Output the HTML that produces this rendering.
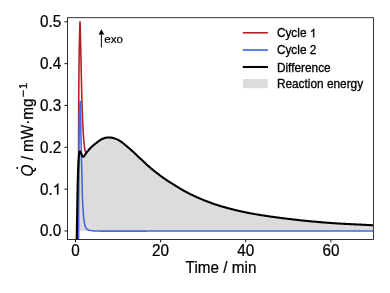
<!DOCTYPE html>
<html><head><meta charset="utf-8"><title>DSC</title>
<style>html,body{margin:0;padding:0;background:#fff;}body{width:390px;height:293px;overflow:hidden;font-family:"Liberation Sans",sans-serif;}</style>
</head><body>
<svg width="390" height="293" viewBox="0 0 390 293" style="display:block;will-change:transform;font-family:'Liberation Sans',sans-serif">
<rect width="390" height="293" fill="#fff"/>
<defs><clipPath id="c"><rect x="67.5" y="17.7" width="305.90" height="221.75"/></clipPath></defs>
<g clip-path="url(#c)" fill="none" stroke-linejoin="round" stroke-linecap="butt">
<path d="M76.88,230.81 L76.89,230.10 L76.90,229.39 L76.91,228.68 L76.93,227.97 L76.94,227.26 L76.95,226.55 L76.96,225.84 L76.97,225.12 L76.98,224.41 L76.99,223.70 L77.00,222.99 L77.01,222.28 L77.02,221.57 L77.03,220.86 L77.04,220.15 L77.05,219.44 L77.06,218.73 L77.07,218.01 L77.08,217.30 L77.09,216.59 L77.11,215.88 L77.12,215.17 L77.13,214.46 L77.14,213.75 L77.15,213.04 L77.16,212.33 L77.17,211.62 L77.18,210.90 L77.20,210.19 L77.21,209.48 L77.22,208.77 L77.23,208.06 L77.25,207.35 L77.26,206.64 L77.27,205.93 L77.28,205.22 L77.29,204.51 L77.30,203.80 L77.32,203.08 L77.33,202.37 L77.34,201.66 L77.35,200.95 L77.36,200.24 L77.37,199.53 L77.39,198.82 L77.40,198.11 L77.41,197.40 L77.42,196.69 L77.43,195.98 L77.45,195.26 L77.46,194.55 L77.47,193.84 L77.48,193.13 L77.50,192.42 L77.51,191.71 L77.52,191.00 L77.54,190.29 L77.55,189.58 L77.57,188.87 L77.58,188.16 L77.60,187.44 L77.61,186.73 L77.63,186.02 L77.64,185.31 L77.66,184.60 L77.68,183.89 L77.69,183.18 L77.71,182.47 L77.73,181.76 L77.75,181.05 L77.77,180.34 L77.79,179.63 L77.81,178.91 L77.83,178.20 L77.85,177.49 L77.87,176.78 L77.89,176.07 L77.91,175.36 L77.94,174.65 L77.96,173.94 L77.98,173.23 L78.01,172.52 L78.03,171.81 L78.06,171.10 L78.09,170.39 L78.11,169.68 L78.14,168.97 L78.17,168.26 L78.20,167.54 L78.23,166.83 L78.26,166.12 L78.30,165.41 L78.33,164.70 L78.37,163.99 L78.41,163.28 L78.44,162.57 L78.49,161.86 L78.53,161.15 L78.57,160.44 L78.62,159.73 L78.66,159.02 L78.71,158.31 L78.76,157.60 L78.82,156.89 L78.88,156.18 L78.95,155.47 L79.03,154.77 L79.12,154.06 L79.23,153.21 L79.38,152.31 L79.56,151.59 L79.80,151.30 L80.25,151.69 L80.74,152.36 L81.05,152.98 L81.31,153.65 L81.58,154.32 L81.89,154.97 L82.23,155.74 L82.62,156.45 L83.05,156.80 L83.63,156.57 L84.24,156.06 L84.68,155.54 L85.04,154.93 L85.39,154.28 L85.76,153.66 L86.17,153.08 L86.60,152.52 L87.04,151.96 L87.49,151.41 L87.95,150.86 L88.41,150.32 L88.87,149.77 L89.33,149.23 L89.80,148.69 L90.27,148.16 L90.76,147.64 L91.25,147.13 L91.76,146.63 L92.27,146.15 L92.81,145.69 L93.35,145.23 L93.91,144.79 L94.48,144.36 L95.05,143.93 L95.62,143.50 L96.18,143.06 L96.74,142.62 L97.30,142.17 L97.86,141.73 L98.42,141.29 L99.00,140.87 L99.58,140.48 L100.18,140.11 L100.79,139.74 L101.42,139.38 L102.05,139.03 L102.70,138.72 L103.35,138.44 L104.01,138.23 L104.69,138.04 L105.38,137.86 L106.08,137.70 L106.79,137.57 L107.50,137.48 L108.21,137.45 L108.92,137.47 L109.63,137.51 L110.34,137.57 L111.05,137.65 L111.76,137.74 L112.45,137.84 L113.15,137.98 L113.84,138.17 L114.52,138.39 L115.20,138.63 L115.87,138.88 L116.52,139.13 L117.17,139.41 L117.81,139.73 L118.44,140.06 L119.06,140.42 L119.68,140.79 L120.28,141.17 L120.87,141.55 L121.45,141.96 L122.02,142.38 L122.58,142.82 L123.14,143.27 L123.69,143.72 L124.24,144.18 L124.79,144.62 L125.35,145.07 L125.90,145.52 L126.44,145.98 L126.99,146.43 L127.53,146.89 L128.08,147.35 L128.62,147.81 L129.16,148.27 L129.69,148.74 L130.23,149.21 L130.77,149.68 L131.30,150.15 L131.83,150.62 L132.36,151.09 L132.89,151.57 L133.42,152.04 L133.94,152.52 L134.46,153.00 L134.98,153.49 L135.50,153.98 L136.02,154.46 L136.53,154.95 L137.05,155.45 L137.56,155.94 L138.08,156.43 L138.59,156.92 L139.11,157.41 L139.62,157.90 L140.14,158.39 L140.66,158.88 L141.17,159.36 L141.69,159.85 L142.21,160.34 L142.73,160.83 L143.25,161.31 L143.76,161.80 L144.28,162.29 L144.80,162.78 L145.32,163.27 L145.84,163.75 L146.36,164.23 L146.88,164.72 L147.41,165.19 L147.94,165.67 L148.47,166.14 L149.00,166.61 L149.54,167.07 L150.08,167.54 L150.62,168.00 L151.16,168.45 L151.71,168.91 L152.26,169.36 L152.81,169.82 L153.36,170.26 L153.91,170.71 L154.47,171.16 L155.03,171.60 L155.59,172.04 L156.15,172.48 L156.71,172.91 L157.27,173.35 L157.83,173.78 L158.40,174.21 L158.97,174.64 L159.53,175.07 L160.11,175.49 L160.68,175.91 L161.25,176.33 L161.83,176.75 L162.40,177.17 L162.98,177.58 L163.56,177.99 L164.15,178.40 L164.73,178.81 L165.31,179.21 L165.90,179.61 L166.49,180.01 L167.08,180.40 L167.67,180.79 L168.27,181.18 L168.87,181.57 L169.47,181.95 L170.06,182.34 L170.67,182.72 L171.27,183.10 L171.87,183.47 L172.47,183.85 L173.08,184.23 L173.68,184.60 L174.29,184.97 L174.89,185.35 L175.50,185.73 L176.10,186.10 L176.70,186.48 L177.31,186.85 L177.92,187.23 L178.52,187.60 L179.13,187.97 L179.74,188.34 L180.35,188.71 L180.96,189.08 L181.57,189.44 L182.18,189.80 L182.80,190.16 L183.42,190.51 L184.03,190.86 L184.65,191.20 L185.28,191.54 L185.90,191.88 L186.53,192.21 L187.16,192.54 L187.79,192.86 L188.42,193.18 L189.06,193.50 L189.69,193.82 L190.33,194.13 L190.97,194.44 L191.61,194.75 L192.25,195.06 L192.90,195.37 L193.54,195.67 L194.19,195.97 L194.83,196.27 L195.48,196.56 L196.13,196.86 L196.78,197.15 L197.43,197.43 L198.09,197.72 L198.74,198.00 L199.39,198.28 L200.05,198.56 L200.70,198.84 L201.36,199.11 L202.02,199.38 L202.67,199.65 L203.33,199.92 L203.99,200.19 L204.65,200.45 L205.31,200.71 L205.97,200.97 L206.63,201.23 L207.30,201.49 L207.96,201.74 L208.63,202.00 L209.29,202.25 L209.96,202.50 L210.63,202.74 L211.30,202.99 L211.97,203.23 L212.64,203.47 L213.31,203.71 L213.98,203.94 L214.65,204.17 L215.33,204.40 L216.00,204.63 L216.68,204.85 L217.35,205.07 L218.03,205.29 L218.70,205.50 L219.38,205.71 L220.06,205.92 L220.74,206.13 L221.42,206.33 L222.10,206.53 L222.78,206.73 L223.47,206.93 L224.15,207.12 L224.83,207.32 L225.52,207.51 L226.21,207.70 L226.89,207.88 L227.58,208.07 L228.27,208.25 L228.96,208.43 L229.65,208.61 L230.34,208.79 L231.03,208.97 L231.72,209.14 L232.41,209.31 L233.10,209.48 L233.79,209.65 L234.48,209.82 L235.17,209.99 L235.86,210.16 L236.55,210.32 L237.24,210.48 L237.93,210.65 L238.63,210.81 L239.32,210.97 L240.01,211.13 L240.71,211.29 L241.40,211.44 L242.09,211.60 L242.79,211.75 L243.48,211.90 L244.18,212.05 L244.88,212.20 L245.57,212.34 L246.27,212.49 L246.97,212.63 L247.66,212.77 L248.36,212.90 L249.06,213.04 L249.76,213.17 L250.46,213.30 L251.15,213.42 L251.85,213.55 L252.55,213.68 L253.25,213.80 L253.95,213.93 L254.65,214.05 L255.35,214.17 L256.05,214.29 L256.75,214.41 L257.46,214.53 L258.16,214.65 L258.86,214.76 L259.56,214.88 L260.26,214.99 L260.97,215.10 L261.67,215.22 L262.37,215.33 L263.07,215.44 L263.78,215.55 L264.48,215.66 L265.18,215.76 L265.89,215.87 L266.59,215.98 L267.29,216.08 L268.00,216.19 L268.70,216.29 L269.40,216.39 L270.11,216.49 L270.81,216.59 L271.52,216.69 L272.22,216.79 L272.93,216.89 L273.63,216.99 L274.33,217.08 L275.04,217.18 L275.74,217.27 L276.45,217.37 L277.15,217.46 L277.86,217.56 L278.56,217.65 L279.27,217.74 L279.97,217.83 L280.67,217.93 L281.38,218.02 L282.09,218.11 L282.79,218.20 L283.50,218.29 L284.20,218.38 L284.91,218.47 L285.61,218.55 L286.32,218.64 L287.02,218.73 L287.73,218.82 L288.44,218.90 L289.14,218.99 L289.85,219.07 L290.55,219.16 L291.26,219.24 L291.97,219.33 L292.67,219.41 L293.38,219.49 L294.09,219.57 L294.79,219.66 L295.50,219.74 L296.21,219.82 L296.91,219.90 L297.62,219.97 L298.33,220.05 L299.03,220.13 L299.74,220.21 L300.45,220.28 L301.16,220.36 L301.86,220.44 L302.57,220.51 L303.28,220.58 L303.98,220.66 L304.69,220.73 L305.40,220.80 L306.11,220.87 L306.81,220.94 L307.52,221.01 L308.23,221.08 L308.94,221.15 L309.64,221.22 L310.35,221.28 L311.06,221.35 L311.77,221.42 L312.48,221.48 L313.18,221.54 L313.89,221.61 L314.60,221.67 L315.31,221.73 L316.02,221.80 L316.72,221.86 L317.43,221.92 L318.14,221.98 L318.85,222.04 L319.56,222.10 L320.27,222.16 L320.97,222.22 L321.68,222.28 L322.39,222.34 L323.10,222.40 L323.81,222.46 L324.52,222.51 L325.23,222.57 L325.94,222.62 L326.65,222.68 L327.35,222.73 L328.06,222.79 L328.77,222.84 L329.48,222.89 L330.19,222.95 L330.90,223.00 L331.61,223.05 L332.32,223.10 L333.03,223.15 L333.74,223.20 L334.45,223.25 L335.16,223.29 L335.87,223.34 L336.58,223.39 L337.29,223.43 L338.00,223.48 L338.71,223.52 L339.41,223.56 L340.12,223.61 L340.83,223.65 L341.54,223.69 L342.25,223.73 L342.96,223.77 L343.67,223.81 L344.38,223.85 L345.09,223.88 L345.80,223.92 L346.51,223.95 L347.22,223.99 L347.93,224.02 L348.64,224.06 L349.35,224.09 L350.06,224.13 L350.77,224.16 L351.49,224.19 L352.20,224.23 L352.91,224.26 L353.62,224.29 L354.33,224.33 L355.04,224.36 L355.75,224.39 L356.46,224.43 L357.17,224.46 L357.88,224.49 L358.59,224.53 L359.30,224.56 L360.01,224.60 L360.72,224.64 L361.43,224.67 L362.14,224.71 L362.85,224.75 L363.56,224.78 L364.27,224.82 L364.98,224.86 L365.69,224.89 L366.40,224.93 L367.11,224.97 L367.82,225.00 L368.53,225.04 L369.24,225.08 L369.95,225.11 L370.66,225.15 L371.37,225.19 L372.08,225.23 L372.79,225.26 L373.50,225.30 L373.40,230.95 L76.88,230.95 Z" fill="#dcdcdc" stroke="none"/>
<path d="M77.80,250.00 L77.81,248.79 L77.82,247.58 L77.84,246.37 L77.85,245.16 L77.86,243.95 L77.87,242.73 L77.88,241.52 L77.89,240.31 L77.90,239.10 L77.91,237.89 L77.92,236.68 L77.93,235.47 L77.94,234.26 L77.95,233.05 L77.96,231.84 L77.97,230.63 L77.98,229.41 L77.99,228.20 L78.00,226.99 L78.01,225.78 L78.02,224.57 L78.02,223.36 L78.03,222.15 L78.04,220.94 L78.05,219.73 L78.06,218.52 L78.07,217.30 L78.08,216.09 L78.09,214.88 L78.10,213.67 L78.10,212.46 L78.11,211.25 L78.12,210.04 L78.13,208.83 L78.14,207.62 L78.15,206.41 L78.16,205.20 L78.17,203.98 L78.18,202.77 L78.19,201.56 L78.20,200.35 L78.21,199.14 L78.22,197.93 L78.23,196.72 L78.24,195.51 L78.25,194.30 L78.26,193.09 L78.27,191.88 L78.29,190.66 L78.30,189.45 L78.31,188.24 L78.32,187.03 L78.34,185.82 L78.35,184.61 L78.36,183.40 L78.37,182.19 L78.39,180.98 L78.40,179.77 L78.41,178.56 L78.42,177.34 L78.43,176.13 L78.45,174.92 L78.46,173.71 L78.47,172.50 L78.48,171.29 L78.49,170.08 L78.50,168.87 L78.51,167.66 L78.51,166.45 L78.52,165.24 L78.53,164.02 L78.54,162.81 L78.54,161.60 L78.55,160.39 L78.55,159.18 L78.56,157.97 L78.56,156.76 L78.57,155.55 L78.57,154.34 L78.57,153.13 L78.58,151.91 L78.58,150.70 L78.58,149.49 L78.59,148.28 L78.59,147.07 L78.59,145.86 L78.59,144.65 L78.60,143.44 L78.60,142.23 L78.60,141.02 L78.61,139.80 L78.61,138.59 L78.61,137.38 L78.61,136.17 L78.62,134.96 L78.62,133.75 L78.62,132.54 L78.63,131.33 L78.63,130.12 L78.63,128.91 L78.64,127.70 L78.64,126.48 L78.64,125.27 L78.65,124.06 L78.65,122.85 L78.65,121.64 L78.65,120.43 L78.66,119.22 L78.66,118.01 L78.66,116.80 L78.67,115.59 L78.67,114.37 L78.67,113.16 L78.68,111.95 L78.68,110.74 L78.69,109.53 L78.69,108.32 L78.69,107.11 L78.70,105.90 L78.70,104.69 L78.71,103.48 L78.71,102.26 L78.72,101.05 L78.72,99.84 L78.73,98.63 L78.73,97.42 L78.74,96.21 L78.74,95.00 L78.75,93.79 L78.76,92.58 L78.77,91.37 L78.77,90.16 L78.78,88.94 L78.79,87.73 L78.80,86.52 L78.81,85.31 L78.82,84.10 L78.83,82.89 L78.84,81.68 L78.85,80.47 L78.86,79.26 L78.87,78.05 L78.88,76.84 L78.89,75.62 L78.91,74.41 L78.92,73.20 L78.93,71.99 L78.94,70.78 L78.95,69.57 L78.97,68.36 L78.98,67.15 L79.00,65.94 L79.01,64.73 L79.03,63.52 L79.05,62.30 L79.07,61.09 L79.08,59.88 L79.10,58.67 L79.12,57.46 L79.14,56.25 L79.16,55.04 L79.19,53.83 L79.21,52.62 L79.23,51.41 L79.25,50.20 L79.27,48.99 L79.30,47.77 L79.32,46.56 L79.34,45.35 L79.37,44.14 L79.39,42.93 L79.41,41.72 L79.44,40.51 L79.46,39.30 L79.49,38.09 L79.52,36.88 L79.54,35.67 L79.57,34.46 L79.60,33.25 L79.64,32.04 L79.67,30.83 L79.70,29.61 L79.74,28.40 L79.78,27.10 L79.82,25.55 L79.87,23.97 L79.92,22.64 L79.97,21.83 L80.02,21.79 L80.07,22.55 L80.12,23.85 L80.17,25.41 L80.22,26.98 L80.26,28.31 L80.29,29.52 L80.33,30.73 L80.36,31.94 L80.39,33.15 L80.42,34.36 L80.45,35.57 L80.47,36.78 L80.50,37.99 L80.52,39.20 L80.55,40.41 L80.58,41.62 L80.60,42.83 L80.63,44.04 L80.66,45.26 L80.68,46.47 L80.71,47.68 L80.74,48.89 L80.76,50.10 L80.79,51.31 L80.82,52.52 L80.84,53.73 L80.87,54.94 L80.90,56.15 L80.92,57.36 L80.95,58.57 L80.97,59.78 L81.00,60.99 L81.03,62.20 L81.05,63.42 L81.08,64.63 L81.11,65.84 L81.13,67.05 L81.16,68.26 L81.19,69.47 L81.22,70.68 L81.24,71.89 L81.27,73.10 L81.30,74.31 L81.32,75.52 L81.35,76.73 L81.37,77.94 L81.40,79.15 L81.43,80.36 L81.45,81.58 L81.48,82.79 L81.50,84.00 L81.53,85.21 L81.56,86.42 L81.58,87.63 L81.61,88.84 L81.64,90.05 L81.67,91.26 L81.70,92.47 L81.73,93.68 L81.76,94.89 L81.79,96.10 L81.82,97.31 L81.86,98.52 L81.89,99.73 L81.93,100.95 L81.96,102.16 L82.00,103.37 L82.04,104.58 L82.08,105.79 L82.12,107.00 L82.16,108.21 L82.20,109.42 L82.25,110.63 L82.29,111.84 L82.34,113.05 L82.39,114.26 L82.43,115.47 L82.48,116.68 L82.53,117.89 L82.58,119.10 L82.63,120.31 L82.69,121.52 L82.74,122.73 L82.80,123.94 L82.85,125.15 L82.91,126.36 L82.97,127.57 L83.03,128.78 L83.10,129.99 L83.16,131.19 L83.23,132.40 L83.31,133.61 L83.38,134.82 L83.46,136.03 L83.55,137.24 L83.63,138.44 L83.73,139.65 L83.83,140.86 L83.94,142.07 L84.06,143.27 L84.18,144.48 L84.32,145.68 L84.46,146.89 L84.62,148.09 L84.82,149.29 L85.06,150.49 L85.42,151.92 L86.07,152.34 L87.18,151.73 L88.00,150.80" stroke="#b22222" stroke-width="1.6"/>
<path d="M78.50,250.00 L78.52,248.59 L78.53,247.17 L78.55,245.76 L78.56,244.35 L78.57,242.93 L78.59,241.52 L78.60,240.11 L78.60,238.69 L78.61,237.28 L78.61,235.87 L78.62,234.45 L78.62,233.04 L78.63,231.63 L78.63,230.21 L78.64,228.80 L78.64,227.39 L78.64,225.97 L78.65,224.56 L78.65,223.15 L78.65,221.73 L78.66,220.32 L78.66,218.91 L78.66,217.49 L78.66,216.08 L78.67,214.67 L78.67,213.25 L78.67,211.84 L78.67,210.43 L78.68,209.01 L78.68,207.60 L78.68,206.19 L78.69,204.77 L78.69,203.36 L78.69,201.95 L78.70,200.53 L78.70,199.12 L78.71,197.71 L78.71,196.29 L78.72,194.88 L78.72,193.46 L78.73,192.05 L78.73,190.64 L78.74,189.22 L78.74,187.81 L78.75,186.40 L78.76,184.98 L78.76,183.57 L78.77,182.16 L78.77,180.74 L78.78,179.33 L78.79,177.92 L78.79,176.50 L78.80,175.09 L78.81,173.68 L78.81,172.26 L78.82,170.85 L78.83,169.44 L78.83,168.02 L78.84,166.61 L78.85,165.20 L78.86,163.78 L78.86,162.37 L78.87,160.96 L78.88,159.54 L78.89,158.13 L78.89,156.72 L78.90,155.30 L78.91,153.89 L78.92,152.48 L78.93,151.06 L78.94,149.65 L78.95,148.24 L78.96,146.82 L78.97,145.41 L78.98,144.00 L78.99,142.58 L79.01,141.17 L79.03,139.76 L79.05,138.34 L79.07,136.93 L79.09,135.52 L79.12,134.10 L79.15,132.69 L79.17,131.28 L79.20,129.86 L79.23,128.45 L79.26,127.04 L79.29,125.63 L79.31,124.21 L79.34,122.80 L79.36,121.39 L79.39,119.97 L79.41,118.56 L79.43,117.15 L79.46,115.73 L79.49,114.32 L79.52,112.91 L79.56,111.49 L79.60,110.08 L79.65,108.67 L79.71,107.26 L79.79,105.84 L79.88,104.43 L80.01,102.74 L80.18,101.43 L80.35,102.19 L80.49,103.97 L80.53,105.40 L80.55,106.81 L80.56,108.22 L80.58,109.64 L80.59,111.05 L80.61,112.47 L80.63,113.88 L80.65,115.29 L80.67,116.71 L80.68,118.12 L80.71,119.53 L80.73,120.95 L80.75,122.36 L80.77,123.77 L80.79,125.19 L80.81,126.60 L80.83,128.01 L80.85,129.42 L80.88,130.84 L80.90,132.25 L80.93,133.66 L80.95,135.08 L80.98,136.49 L81.00,137.90 L81.03,139.32 L81.06,140.73 L81.09,142.14 L81.12,143.56 L81.15,144.97 L81.18,146.38 L81.21,147.80 L81.24,149.21 L81.27,150.62 L81.31,152.03 L81.34,153.45 L81.37,154.86 L81.41,156.27 L81.44,157.69 L81.48,159.10 L81.51,160.51 L81.55,161.93 L81.59,163.34 L81.63,164.75 L81.67,166.16 L81.71,167.58 L81.75,168.99 L81.79,170.40 L81.83,171.81 L81.87,173.23 L81.91,174.64 L81.95,176.05 L81.99,177.47 L82.02,178.88 L82.05,180.29 L82.08,181.71 L82.11,183.12 L82.14,184.53 L82.17,185.95 L82.19,187.36 L82.22,188.77 L82.25,190.19 L82.28,191.60 L82.31,193.01 L82.35,194.42 L82.38,195.84 L82.43,197.25 L82.47,198.66 L82.53,200.07 L82.59,201.49 L82.66,202.90 L82.73,204.31 L82.81,205.72 L82.90,207.13 L82.98,208.54 L83.07,209.95 L83.17,211.36 L83.27,212.78 L83.38,214.18 L83.50,215.59 L83.64,217.00 L83.79,218.40 L83.96,219.81 L84.15,221.22 L84.38,222.61 L84.64,224.00 L84.96,225.37 L85.41,226.72 L86.01,228.00 L86.89,229.09 L88.09,229.82 L89.46,230.23 L90.85,230.53 L92.24,230.74 L93.65,230.85 L95.06,230.93 L96.48,230.98 L97.89,231.02 L99.30,231.06 L100.72,231.09 L102.13,231.10 L103.54,231.10 L104.96,231.10 L106.37,231.10 L107.78,231.10 L109.20,231.10 L110.61,231.10 L112.02,231.10 L113.44,231.10 L114.85,231.10 L116.26,231.10 L117.68,231.10 L119.09,231.10 L120.50,231.10 L121.92,231.10 L123.33,231.10 L124.74,231.10 L126.16,231.10 L127.57,231.10 L128.98,231.10 L130.40,231.10 L131.81,231.09 L133.22,231.09 L134.64,231.09 L136.05,231.09 L137.46,231.09 L138.88,231.09 L140.29,231.08 L141.70,231.08 L143.12,231.08 L144.53,231.08 L145.94,231.08 L147.36,231.07 L148.77,231.07 L150.18,231.07 L151.60,231.07 L153.01,231.06 L154.42,231.06 L155.84,231.06 L157.25,231.06 L158.66,231.05 L160.08,231.05 L161.49,231.05 L162.90,231.04 L164.32,231.04 L165.73,231.04 L167.14,231.04 L168.56,231.03 L169.97,231.03 L171.38,231.03 L172.80,231.03 L174.21,231.02 L175.63,231.02 L177.04,231.02 L178.45,231.02 L179.87,231.02 L181.28,231.01 L182.69,231.01 L184.11,231.01 L185.52,231.01 L186.93,231.01 L188.35,231.01 L189.76,231.00 L191.17,231.00 L192.59,231.00 L194.00,231.00 L195.41,231.00 L196.83,231.00 L198.24,231.00 L199.65,231.00 L201.07,231.00 L202.48,231.00 L203.89,231.00 L205.31,231.00 L206.72,231.00 L208.13,231.00 L209.55,231.00 L210.96,231.00 L212.37,231.00 L213.79,231.00 L215.20,231.00 L216.61,231.00 L218.03,231.00 L219.44,231.00 L220.85,231.00 L222.27,231.00 L223.68,231.00 L225.09,231.00 L226.51,231.00 L227.92,231.00 L229.33,231.00 L230.75,231.00 L232.16,231.00 L233.57,231.00 L234.99,231.00 L236.40,231.00 L237.81,231.00 L239.23,231.00 L240.64,231.00 L242.05,231.00 L243.47,231.00 L244.88,231.00 L246.29,231.00 L247.71,231.00 L249.12,231.00 L250.53,231.00 L251.95,231.00 L253.36,231.00 L254.78,231.00 L256.19,231.00 L257.60,231.00 L259.02,231.00 L260.43,231.00 L261.84,231.00 L263.26,231.00 L264.67,231.00 L266.08,231.00 L267.50,231.00 L268.91,231.00 L270.32,231.00 L271.74,231.00 L273.15,231.00 L274.56,231.00 L275.98,231.00 L277.39,231.00 L278.80,231.00 L280.22,231.00 L281.63,231.00 L283.04,231.00 L284.46,231.00 L285.87,231.00 L287.28,231.00 L288.70,231.00 L290.11,231.00 L291.52,231.00 L292.94,231.00 L294.35,231.00 L295.76,231.00 L297.18,231.00 L298.59,231.00 L300.00,231.00 L301.42,231.00 L302.83,231.00 L304.24,231.00 L305.66,231.00 L307.07,231.00 L308.48,231.00 L309.90,231.00 L311.31,231.00 L312.72,231.00 L314.14,231.00 L315.55,231.00 L316.96,231.00 L318.38,231.00 L319.79,231.00 L321.20,231.00 L322.62,231.00 L324.03,231.00 L325.44,231.00 L326.86,231.00 L328.27,231.00 L329.68,231.00 L331.10,231.00 L332.51,231.00 L333.92,231.00 L335.34,231.00 L336.75,231.00 L338.17,231.00 L339.58,231.00 L340.99,231.00 L342.41,231.00 L343.82,231.00 L345.23,231.00 L346.65,231.00 L348.06,231.00 L349.47,231.00 L350.89,231.00 L352.30,231.00 L353.71,231.00 L355.13,231.00 L356.54,231.00 L357.95,231.00 L359.37,231.00 L360.78,231.00 L362.19,231.00 L363.61,231.00 L365.02,231.00 L366.43,231.00 L367.85,231.00 L369.26,231.00 L370.67,231.00 L372.09,231.00 L373.50,231.00" stroke="#4169e1" stroke-width="1.6"/>
<path d="M76.30,250.00 L76.33,249.29 L76.36,248.58 L76.39,247.87 L76.42,247.16 L76.45,246.45 L76.48,245.74 L76.51,245.03 L76.54,244.32 L76.56,243.61 L76.59,242.90 L76.61,242.18 L76.64,241.47 L76.66,240.76 L76.68,240.05 L76.70,239.34 L76.72,238.63 L76.73,237.92 L76.75,237.21 L76.77,236.50 L76.78,235.79 L76.80,235.08 L76.81,234.37 L76.82,233.66 L76.84,232.94 L76.85,232.23 L76.86,231.52 L76.88,230.81 L76.89,230.10 L76.90,229.39 L76.91,228.68 L76.93,227.97 L76.94,227.26 L76.95,226.55 L76.96,225.84 L76.97,225.12 L76.98,224.41 L76.99,223.70 L77.00,222.99 L77.01,222.28 L77.02,221.57 L77.03,220.86 L77.04,220.15 L77.05,219.44 L77.06,218.73 L77.07,218.01 L77.08,217.30 L77.09,216.59 L77.11,215.88 L77.12,215.17 L77.13,214.46 L77.14,213.75 L77.15,213.04 L77.16,212.33 L77.17,211.62 L77.18,210.90 L77.20,210.19 L77.21,209.48 L77.22,208.77 L77.23,208.06 L77.25,207.35 L77.26,206.64 L77.27,205.93 L77.28,205.22 L77.29,204.51 L77.30,203.80 L77.32,203.08 L77.33,202.37 L77.34,201.66 L77.35,200.95 L77.36,200.24 L77.37,199.53 L77.39,198.82 L77.40,198.11 L77.41,197.40 L77.42,196.69 L77.43,195.98 L77.45,195.26 L77.46,194.55 L77.47,193.84 L77.48,193.13 L77.50,192.42 L77.51,191.71 L77.52,191.00 L77.54,190.29 L77.55,189.58 L77.57,188.87 L77.58,188.16 L77.60,187.44 L77.61,186.73 L77.63,186.02 L77.64,185.31 L77.66,184.60 L77.68,183.89 L77.69,183.18 L77.71,182.47 L77.73,181.76 L77.75,181.05 L77.77,180.34 L77.79,179.63 L77.81,178.91 L77.83,178.20 L77.85,177.49 L77.87,176.78 L77.89,176.07 L77.91,175.36 L77.94,174.65 L77.96,173.94 L77.98,173.23 L78.01,172.52 L78.03,171.81 L78.06,171.10 L78.09,170.39 L78.11,169.68 L78.14,168.97 L78.17,168.26 L78.20,167.54 L78.23,166.83 L78.26,166.12 L78.30,165.41 L78.33,164.70 L78.37,163.99 L78.41,163.28 L78.44,162.57 L78.49,161.86 L78.53,161.15 L78.57,160.44 L78.62,159.73 L78.66,159.02 L78.71,158.31 L78.76,157.60 L78.82,156.89 L78.88,156.18 L78.95,155.47 L79.03,154.77 L79.12,154.06 L79.23,153.21 L79.38,152.31 L79.56,151.59 L79.80,151.30 L80.25,151.69 L80.74,152.36 L81.05,152.98 L81.31,153.65 L81.58,154.32 L81.89,154.97 L82.23,155.74 L82.62,156.45 L83.05,156.80 L83.63,156.57 L84.24,156.06 L84.68,155.54 L85.04,154.93 L85.39,154.28 L85.76,153.66 L86.17,153.08 L86.60,152.52 L87.04,151.96 L87.49,151.41 L87.95,150.86 L88.41,150.32 L88.87,149.77 L89.33,149.23 L89.80,148.69 L90.27,148.16 L90.76,147.64 L91.25,147.13 L91.76,146.63 L92.27,146.15 L92.81,145.69 L93.35,145.23 L93.91,144.79 L94.48,144.36 L95.05,143.93 L95.62,143.50 L96.18,143.06 L96.74,142.62 L97.30,142.17 L97.86,141.73 L98.42,141.29 L99.00,140.87 L99.58,140.48 L100.18,140.11 L100.79,139.74 L101.42,139.38 L102.05,139.03 L102.70,138.72 L103.35,138.44 L104.01,138.23 L104.69,138.04 L105.38,137.86 L106.08,137.70 L106.79,137.57 L107.50,137.48 L108.21,137.45 L108.92,137.47 L109.63,137.51 L110.34,137.57 L111.05,137.65 L111.76,137.74 L112.45,137.84 L113.15,137.98 L113.84,138.17 L114.52,138.39 L115.20,138.63 L115.87,138.88 L116.52,139.13 L117.17,139.41 L117.81,139.73 L118.44,140.06 L119.06,140.42 L119.68,140.79 L120.28,141.17 L120.87,141.55 L121.45,141.96 L122.02,142.38 L122.58,142.82 L123.14,143.27 L123.69,143.72 L124.24,144.18 L124.79,144.62 L125.35,145.07 L125.90,145.52 L126.44,145.98 L126.99,146.43 L127.53,146.89 L128.08,147.35 L128.62,147.81 L129.16,148.27 L129.69,148.74 L130.23,149.21 L130.77,149.68 L131.30,150.15 L131.83,150.62 L132.36,151.09 L132.89,151.57 L133.42,152.04 L133.94,152.52 L134.46,153.00 L134.98,153.49 L135.50,153.98 L136.02,154.46 L136.53,154.95 L137.05,155.45 L137.56,155.94 L138.08,156.43 L138.59,156.92 L139.11,157.41 L139.62,157.90 L140.14,158.39 L140.66,158.88 L141.17,159.36 L141.69,159.85 L142.21,160.34 L142.73,160.83 L143.25,161.31 L143.76,161.80 L144.28,162.29 L144.80,162.78 L145.32,163.27 L145.84,163.75 L146.36,164.23 L146.88,164.72 L147.41,165.19 L147.94,165.67 L148.47,166.14 L149.00,166.61 L149.54,167.07 L150.08,167.54 L150.62,168.00 L151.16,168.45 L151.71,168.91 L152.26,169.36 L152.81,169.82 L153.36,170.26 L153.91,170.71 L154.47,171.16 L155.03,171.60 L155.59,172.04 L156.15,172.48 L156.71,172.91 L157.27,173.35 L157.83,173.78 L158.40,174.21 L158.97,174.64 L159.53,175.07 L160.11,175.49 L160.68,175.91 L161.25,176.33 L161.83,176.75 L162.40,177.17 L162.98,177.58 L163.56,177.99 L164.15,178.40 L164.73,178.81 L165.31,179.21 L165.90,179.61 L166.49,180.01 L167.08,180.40 L167.67,180.79 L168.27,181.18 L168.87,181.57 L169.47,181.95 L170.06,182.34 L170.67,182.72 L171.27,183.10 L171.87,183.47 L172.47,183.85 L173.08,184.23 L173.68,184.60 L174.29,184.97 L174.89,185.35 L175.50,185.73 L176.10,186.10 L176.70,186.48 L177.31,186.85 L177.92,187.23 L178.52,187.60 L179.13,187.97 L179.74,188.34 L180.35,188.71 L180.96,189.08 L181.57,189.44 L182.18,189.80 L182.80,190.16 L183.42,190.51 L184.03,190.86 L184.65,191.20 L185.28,191.54 L185.90,191.88 L186.53,192.21 L187.16,192.54 L187.79,192.86 L188.42,193.18 L189.06,193.50 L189.69,193.82 L190.33,194.13 L190.97,194.44 L191.61,194.75 L192.25,195.06 L192.90,195.37 L193.54,195.67 L194.19,195.97 L194.83,196.27 L195.48,196.56 L196.13,196.86 L196.78,197.15 L197.43,197.43 L198.09,197.72 L198.74,198.00 L199.39,198.28 L200.05,198.56 L200.70,198.84 L201.36,199.11 L202.02,199.38 L202.67,199.65 L203.33,199.92 L203.99,200.19 L204.65,200.45 L205.31,200.71 L205.97,200.97 L206.63,201.23 L207.30,201.49 L207.96,201.74 L208.63,202.00 L209.29,202.25 L209.96,202.50 L210.63,202.74 L211.30,202.99 L211.97,203.23 L212.64,203.47 L213.31,203.71 L213.98,203.94 L214.65,204.17 L215.33,204.40 L216.00,204.63 L216.68,204.85 L217.35,205.07 L218.03,205.29 L218.70,205.50 L219.38,205.71 L220.06,205.92 L220.74,206.13 L221.42,206.33 L222.10,206.53 L222.78,206.73 L223.47,206.93 L224.15,207.12 L224.83,207.32 L225.52,207.51 L226.21,207.70 L226.89,207.88 L227.58,208.07 L228.27,208.25 L228.96,208.43 L229.65,208.61 L230.34,208.79 L231.03,208.97 L231.72,209.14 L232.41,209.31 L233.10,209.48 L233.79,209.65 L234.48,209.82 L235.17,209.99 L235.86,210.16 L236.55,210.32 L237.24,210.48 L237.93,210.65 L238.63,210.81 L239.32,210.97 L240.01,211.13 L240.71,211.29 L241.40,211.44 L242.09,211.60 L242.79,211.75 L243.48,211.90 L244.18,212.05 L244.88,212.20 L245.57,212.34 L246.27,212.49 L246.97,212.63 L247.66,212.77 L248.36,212.90 L249.06,213.04 L249.76,213.17 L250.46,213.30 L251.15,213.42 L251.85,213.55 L252.55,213.68 L253.25,213.80 L253.95,213.93 L254.65,214.05 L255.35,214.17 L256.05,214.29 L256.75,214.41 L257.46,214.53 L258.16,214.65 L258.86,214.76 L259.56,214.88 L260.26,214.99 L260.97,215.10 L261.67,215.22 L262.37,215.33 L263.07,215.44 L263.78,215.55 L264.48,215.66 L265.18,215.76 L265.89,215.87 L266.59,215.98 L267.29,216.08 L268.00,216.19 L268.70,216.29 L269.40,216.39 L270.11,216.49 L270.81,216.59 L271.52,216.69 L272.22,216.79 L272.93,216.89 L273.63,216.99 L274.33,217.08 L275.04,217.18 L275.74,217.27 L276.45,217.37 L277.15,217.46 L277.86,217.56 L278.56,217.65 L279.27,217.74 L279.97,217.83 L280.67,217.93 L281.38,218.02 L282.09,218.11 L282.79,218.20 L283.50,218.29 L284.20,218.38 L284.91,218.47 L285.61,218.55 L286.32,218.64 L287.02,218.73 L287.73,218.82 L288.44,218.90 L289.14,218.99 L289.85,219.07 L290.55,219.16 L291.26,219.24 L291.97,219.33 L292.67,219.41 L293.38,219.49 L294.09,219.57 L294.79,219.66 L295.50,219.74 L296.21,219.82 L296.91,219.90 L297.62,219.97 L298.33,220.05 L299.03,220.13 L299.74,220.21 L300.45,220.28 L301.16,220.36 L301.86,220.44 L302.57,220.51 L303.28,220.58 L303.98,220.66 L304.69,220.73 L305.40,220.80 L306.11,220.87 L306.81,220.94 L307.52,221.01 L308.23,221.08 L308.94,221.15 L309.64,221.22 L310.35,221.28 L311.06,221.35 L311.77,221.42 L312.48,221.48 L313.18,221.54 L313.89,221.61 L314.60,221.67 L315.31,221.73 L316.02,221.80 L316.72,221.86 L317.43,221.92 L318.14,221.98 L318.85,222.04 L319.56,222.10 L320.27,222.16 L320.97,222.22 L321.68,222.28 L322.39,222.34 L323.10,222.40 L323.81,222.46 L324.52,222.51 L325.23,222.57 L325.94,222.62 L326.65,222.68 L327.35,222.73 L328.06,222.79 L328.77,222.84 L329.48,222.89 L330.19,222.95 L330.90,223.00 L331.61,223.05 L332.32,223.10 L333.03,223.15 L333.74,223.20 L334.45,223.25 L335.16,223.29 L335.87,223.34 L336.58,223.39 L337.29,223.43 L338.00,223.48 L338.71,223.52 L339.41,223.56 L340.12,223.61 L340.83,223.65 L341.54,223.69 L342.25,223.73 L342.96,223.77 L343.67,223.81 L344.38,223.85 L345.09,223.88 L345.80,223.92 L346.51,223.95 L347.22,223.99 L347.93,224.02 L348.64,224.06 L349.35,224.09 L350.06,224.13 L350.77,224.16 L351.49,224.19 L352.20,224.23 L352.91,224.26 L353.62,224.29 L354.33,224.33 L355.04,224.36 L355.75,224.39 L356.46,224.43 L357.17,224.46 L357.88,224.49 L358.59,224.53 L359.30,224.56 L360.01,224.60 L360.72,224.64 L361.43,224.67 L362.14,224.71 L362.85,224.75 L363.56,224.78 L364.27,224.82 L364.98,224.86 L365.69,224.89 L366.40,224.93 L367.11,224.97 L367.82,225.00 L368.53,225.04 L369.24,225.08 L369.95,225.11 L370.66,225.15 L371.37,225.19 L372.08,225.23 L372.79,225.26 L373.50,225.30" stroke="#000" stroke-width="2.1"/>
</g>
<rect x="67.5" y="17.7" width="305.90" height="221.75" fill="none" stroke="#111" stroke-width="0.85"/>
<line x1="64.5" x2="67.5" y1="230.95" y2="230.95" stroke="#1a1a1a" stroke-width="1.05"/>
<text transform="translate(61.20,236.40) scale(1,1.045)" font-size="15.3" text-anchor="end" stroke="#000" stroke-width="0.22">0.0</text>
<line x1="64.5" x2="67.5" y1="189.12" y2="189.12" stroke="#1a1a1a" stroke-width="1.05"/>
<text transform="translate(52.69,194.57) scale(1,1.045)" font-size="15.3" text-anchor="end" stroke="#000" stroke-width="0.22">0.</text>
<path transform="translate(52.69,194.57) scale(0.00747,-0.00747)" d="M763 0H583V1147Q518 1085 412.5 1023Q307 961 223 930V1104Q374 1175 487 1276Q600 1377 647 1472H763Z" fill="#000" stroke="#000" stroke-width="29.4"/>
<line x1="64.5" x2="67.5" y1="147.29" y2="147.29" stroke="#1a1a1a" stroke-width="1.05"/>
<text transform="translate(61.20,152.74) scale(1,1.045)" font-size="15.3" text-anchor="end" stroke="#000" stroke-width="0.22">0.2</text>
<line x1="64.5" x2="67.5" y1="105.46" y2="105.46" stroke="#1a1a1a" stroke-width="1.05"/>
<text transform="translate(61.20,110.91) scale(1,1.045)" font-size="15.3" text-anchor="end" stroke="#000" stroke-width="0.22">0.3</text>
<line x1="64.5" x2="67.5" y1="63.63" y2="63.63" stroke="#1a1a1a" stroke-width="1.05"/>
<text transform="translate(61.20,69.08) scale(1,1.045)" font-size="15.3" text-anchor="end" stroke="#000" stroke-width="0.22">0.4</text>
<line x1="64.5" x2="67.5" y1="21.80" y2="21.80" stroke="#1a1a1a" stroke-width="1.05"/>
<text transform="translate(61.20,27.25) scale(1,1.045)" font-size="15.3" text-anchor="end" stroke="#000" stroke-width="0.22">0.5</text>
<line x1="75.46" x2="75.46" y1="239.45" y2="242.35" stroke="#1a1a1a" stroke-width="1.05"/>
<text transform="translate(75.46,256.00) scale(1,1.045)" font-size="15.3" text-anchor="middle" stroke="#000" stroke-width="0.22">0</text>
<line x1="160.60" x2="160.60" y1="239.45" y2="242.35" stroke="#1a1a1a" stroke-width="1.05"/>
<text transform="translate(160.60,256.00) scale(1,1.045)" font-size="15.3" text-anchor="middle" stroke="#000" stroke-width="0.22">20</text>
<line x1="245.74" x2="245.74" y1="239.45" y2="242.35" stroke="#1a1a1a" stroke-width="1.05"/>
<text transform="translate(245.74,256.00) scale(1,1.045)" font-size="15.3" text-anchor="middle" stroke="#000" stroke-width="0.22">40</text>
<line x1="330.88" x2="330.88" y1="239.45" y2="242.35" stroke="#1a1a1a" stroke-width="1.05"/>
<text transform="translate(330.88,256.00) scale(1,1.045)" font-size="15.3" text-anchor="middle" stroke="#000" stroke-width="0.22">60</text>
<text transform="translate(221.00,273.40) scale(1,1.03)" font-size="15.3" text-anchor="middle" stroke="#000" stroke-width="0.22">Time / min</text>
<g transform="translate(32.8,176.5) rotate(-90) scale(1,1.045)" stroke="#000" stroke-width="0.22"><text x="0" y="0" font-size="15.3"><tspan font-style="italic">Q</tspan> / mW·mg</text><text font-size="11.2"><tspan x="87.6" y="-5.6">1</tspan></text><circle cx="8.5" cy="-14.9" r="0.9" fill="#000" stroke="none"/></g>
<line x1="23.3" x2="23.3" y1="90.3" y2="96.8" stroke="#000" stroke-width="1.05"/>
<line x1="101.4" x2="101.4" y1="33" y2="47.4" stroke="#000" stroke-width="1.0"/>
<path d="M101.4,29.2 L104.2,34.6 L98.6,34.6 Z" fill="#000"/>
<text transform="translate(104.20,43.10) scale(1,0.97)" font-size="11.7" text-anchor="start" stroke="#000" stroke-width="0.22">exo</text>
<line x1="242.8" x2="267.9" y1="32.8" y2="32.8" stroke="#b22222" stroke-width="1.6"/>
<line x1="242.8" x2="267.9" y1="50.0" y2="50.0" stroke="#4169e1" stroke-width="1.65"/>
<line x1="242.8" x2="267.9" y1="67.0" y2="67.0" stroke="#000" stroke-width="2.1"/>
<rect x="242.9" y="79.00" width="24.9" height="9.2" fill="#dcdcdc"/>
<text transform="translate(276.90,37.30) scale(1,1.03)" font-size="11.85" text-anchor="start" stroke="#000" stroke-width="0.3">Cycle </text>
<text transform="translate(276.90,54.40) scale(1,1.03)" font-size="11.85" text-anchor="start" stroke="#000" stroke-width="0.3">Cycle 2</text>
<text transform="translate(276.90,71.50) scale(1,1.03)" font-size="11.85" text-anchor="start" stroke="#000" stroke-width="0.3">Difference</text>
<text transform="translate(276.90,88.10) scale(1,1.03)" font-size="11.85" text-anchor="start" stroke="#000" stroke-width="0.3">Reaction energy</text>
<path transform="translate(309.82,37.30) scale(0.00579,-0.00579)" d="M763 0H583V1147Q518 1085 412.5 1023Q307 961 223 930V1104Q374 1175 487 1276Q600 1377 647 1472H763Z" fill="#000" stroke="#000" stroke-width="51.8"/>
</svg>
</body></html>
